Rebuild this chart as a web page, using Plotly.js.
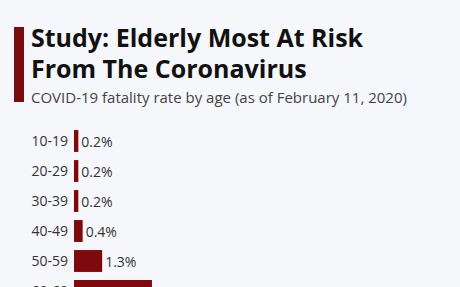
<!DOCTYPE html>
<html><head><meta charset="utf-8">
<script src="https://cdn.plot.ly/plotly-3.0.1.min.js"></script>
<style>html,body{margin:0;padding:0;overflow:hidden;width:460px;height:287px;background:#f5f7fa}</style>
</head><body>
<div id="chart" style="width:460px;height:320px"></div>
<script>
const ageGroups = ["10-19","20-29","30-39","40-49","50-59","60-69"];
const fatalityRate = [0.2,0.2,0.2,0.4,1.3,3.6];
const valueLabels = ["0.2%","0.2%","0.2%","0.4%","1.3%","3.6%"];

const W=460, H=320, L=74, R=20, T=126, B=14;
const pw=W-L-R, ph=H-T-B;
const px=x=>(x-L)/pw, py=y=>(H-B-y)/ph;

const trace={type:'bar',orientation:'h',y:ageGroups,x:fatalityRate,
  text:valueLabels,textposition:'outside',cliponaxis:false,
  textfont:{family:'Open Sans',size:14,color:'#333'},
  marker:{color:'#7f0a0d'},hoverinfo:'none'};

const layout={width:W,height:H,margin:{l:L,r:R,t:T,b:B},
  paper_bgcolor:'#f5f7fa',plot_bgcolor:'#f5f7fa',bargap:0.27,showlegend:false,
  xaxis:{range:[0,16.9],visible:false,fixedrange:true},
  yaxis:{autorange:'reversed',showgrid:false,zeroline:false,showline:false,ticks:'',
    ticklabelstandoff:5,tickfont:{family:'Open Sans',size:14,color:'#333'}},
  shapes:[{type:'rect',xref:'paper',yref:'paper',x0:px(14),x1:px(24),y0:py(102),y1:py(27),
    fillcolor:'#7a0c0e',line:{width:0}}],
  annotations:[
    {xref:'paper',yref:'paper',x:px(29),y:py(18),xanchor:'left',yanchor:'top',showarrow:false,
     text:'<b>Study: Elderly Most At Risk</b>',font:{family:'Open Sans',size:25,color:'#111'}},
    {xref:'paper',yref:'paper',x:px(29),y:py(49),xanchor:'left',yanchor:'top',showarrow:false,
     text:'<b>From The Coronavirus</b>',font:{family:'Open Sans',size:25,color:'#111'}},
    {xref:'paper',yref:'paper',x:px(29),y:py(85),xanchor:'left',yanchor:'top',showarrow:false,
     text:'COVID-19 fatality rate by age (as of February 11, 2020)',font:{family:'Open Sans',size:15,color:'#444'}}
  ]};
Plotly.newPlot('chart',[trace],layout,{displayModeBar:false,staticPlot:true});
</script></body></html>
